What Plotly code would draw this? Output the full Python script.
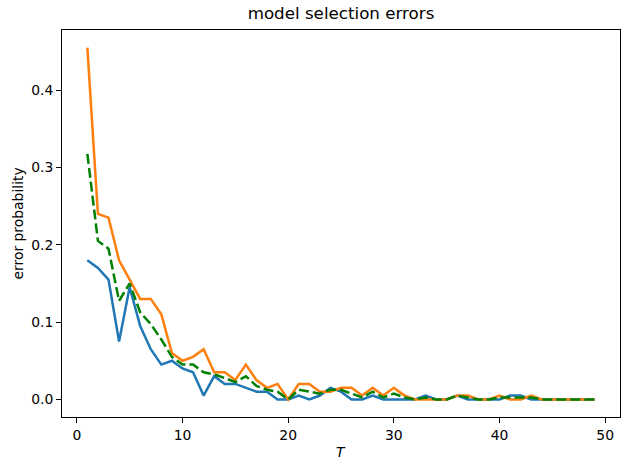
import plotly.graph_objects as go

T = list(range(1, 50))

err_a = [0.18, 0.17, 0.155, 0.075, 0.145, 0.095, 0.065, 0.045, 0.05, 0.04,
         0.035, 0.005, 0.03, 0.02, 0.02, 0.015, 0.01, 0.01, 0.0, 0.0,
         0.005, 0.0, 0.005, 0.015, 0.01, 0.0, 0.0, 0.005, 0.0, 0.0,
         0.0, 0.0, 0.005, 0.0, 0.0, 0.005, 0.0, 0.0, 0.0, 0.0,
         0.005, 0.005, 0.0, 0.0, 0.0, 0.0, 0.0, 0.0, 0.0]

err_b = [0.455, 0.24, 0.235, 0.18, 0.155, 0.13, 0.13, 0.11, 0.06, 0.05,
         0.055, 0.065, 0.035, 0.035, 0.025, 0.045, 0.025, 0.015, 0.02, 0.0,
         0.02, 0.02, 0.01, 0.01, 0.015, 0.015, 0.005, 0.015, 0.005, 0.015,
         0.005, 0.0, 0.0, 0.0, 0.0, 0.005, 0.005, 0.0, 0.0, 0.005,
         0.0, 0.0, 0.005, 0.0, 0.0, 0.0, 0.0, 0.0, 0.0]

err_mean = [0.3175, 0.205, 0.195, 0.1275, 0.15, 0.1125, 0.0975, 0.0775, 0.055, 0.045,
            0.045, 0.035, 0.0325, 0.0275, 0.0225, 0.03, 0.0175, 0.0125, 0.01, 0.0,
            0.0125, 0.01, 0.0075, 0.0125, 0.0125, 0.0075, 0.0025, 0.01, 0.0025, 0.0075,
            0.0025, 0.0, 0.0025, 0.0, 0.0, 0.005, 0.0025, 0.0, 0.0, 0.0025,
            0.0025, 0.0025, 0.0025, 0.0, 0.0, 0.0, 0.0, 0.0, 0.0]

x_ticks = [0, 10, 20, 30, 40, 50]
y_ticks = [0.0, 0.1, 0.2, 0.3, 0.4]
y_tick_labels = ["0.0", "0.1", "0.2", "0.3", "0.4"]

FONT = "DejaVu Sans"
TICK_SIZE = 13.9
TITLE_SIZE = 16.7

fig = go.Figure()
fig.add_trace(go.Scatter(x=T, y=err_a, mode="lines",
                         line=dict(color="#1f77b4", width=2.5), showlegend=False))
fig.add_trace(go.Scatter(x=T, y=err_b, mode="lines",
                         line=dict(color="#ff7f0e", width=2.5), showlegend=False))
fig.add_trace(go.Scatter(x=T, y=err_mean, mode="lines",
                         line=dict(color="#008000", width=2.5, dash="10px,4px"),
                         showlegend=False))

fig.update_layout(
    width=630, height=470,
    margin=dict(l=62, r=10, t=30, b=53),
    paper_bgcolor="white", plot_bgcolor="white",
    font=dict(family=FONT, size=TICK_SIZE, color="black"),
    title=dict(text="model selection errors", x=0.5, xref="paper", xanchor="center",
               y=1 - 13 / 470, yref="container", yanchor="middle",
               font=dict(family=FONT, size=TITLE_SIZE, color="black")),
    xaxis=dict(range=[-1.4, 51.4], tickvals=x_ticks, ticks="outside", ticklen=5,
               tickcolor="black", showline=True, linecolor="black", linewidth=1,
               mirror=True, showgrid=False, zeroline=False,
               tickfont=dict(family=FONT, size=TICK_SIZE)),
    yaxis=dict(range=[-0.02275, 0.47775], tickvals=y_ticks, ticktext=y_tick_labels,
               ticks="outside", ticklen=5, tickcolor="black", showline=True,
               linecolor="black", linewidth=1, mirror=True, showgrid=False,
               zeroline=False, tickfont=dict(family=FONT, size=TICK_SIZE)),
    annotations=[
        dict(text="<i>T</i>", xref="paper", yref="paper", x=0.5, y=-(452 - 417) / 387,
             xanchor="center", yanchor="middle", showarrow=False,
             font=dict(family=FONT, size=TICK_SIZE)),
        dict(text="error probability", xref="paper", yref="paper",
             x=-(62 - 17) / 558, y=0.5, xanchor="center", yanchor="middle",
             textangle=-90, showarrow=False, font=dict(family=FONT, size=TICK_SIZE)),
    ],
)

fig.write_html("out.html")
